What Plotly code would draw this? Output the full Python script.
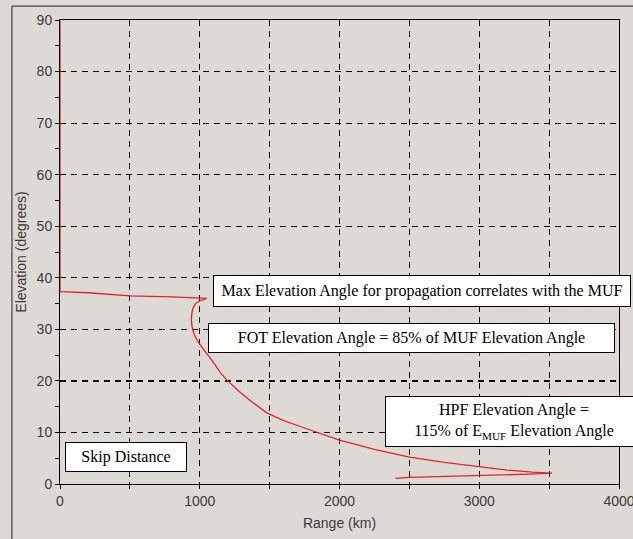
import plotly.graph_objects as go

# Curve data (range km, elevation degrees)
range_km = [0, 0, 200, 350, 500, 800, 1000, 1050,
            1000, 970, 950, 943, 940, 945, 960, 990, 1030, 1060, 1100, 1150, 1200,
            1280, 1370, 1480, 1600, 1714, 1857, 2000, 2250, 2500, 2750, 3000, 3200,
            3380, 3520, 3360, 3000, 2800, 2500, 2400]
elevation_deg = [90, 37.3, 37.1, 36.8, 36.5, 36.3, 36.1, 36.0,
                 35.5, 35.0, 34.0, 33.0, 31.8, 30.5, 29.0, 27.5, 26.0, 25.0, 23.5, 21.5, 20.0,
                 18.0, 16.0, 13.8, 12.3, 11.2, 9.9, 8.5, 6.7, 5.2, 4.2, 3.3, 2.7,
                 2.3, 2.1, 1.9, 1.7, 1.5, 1.3, 1.1]

x_ticks = [0, 1000, 2000, 3000, 4000]
y_ticks = [0, 10, 20, 30, 40, 50, 60, 70, 80, 90]

notes = [
    "Max Elevation Angle for propagation correlates with the MUF",
    "FOT Elevation Angle = 85% of MUF Elevation Angle",
    "HPF Elevation Angle =<br>115% of E<sub>MUF</sub> Elevation Angle",
    "Skip Distance",
]
note_x = [2593, 2518, 3250, 471]
note_y = [37.4, 28.3, 12.1, 5.2]
note_w = [416, 405, 256, 120]
note_h = [30, 28, 49, 28]

BG = "#dddad6"
DASH = "6px,5px"

fig = go.Figure()
fig.add_trace(go.Scatter(x=range_km, y=elevation_deg, mode="lines",
                         line=dict(color="#e3232b", width=1.3),
                         showlegend=False, hoverinfo="skip"))

for t, x, y, w, h in zip(notes, note_x, note_y, note_w, note_h):
    fig.add_annotation(x=x, y=y, xref="x", yref="y", text=t, showarrow=False,
                       bgcolor="white", bordercolor="black", borderwidth=1,
                       borderpad=0, width=w, height=h, align="center", valign="middle",
                       font=dict(family="Liberation Serif, Times New Roman, serif",
                                 size=16, color="black"))

# Bold gridline at 20 degrees
fig.add_shape(type="line", xref="x", yref="y", x0=0, x1=4000, y0=20, y1=20,
              line=dict(color="black", width=2, dash=DASH), layer="below")

# Outer window frame
fig.add_shape(type="rect", xref="paper", yref="paper",
              x0=-0.0859, x1=1.2, y0=-0.2, y1=1.030,
              line=dict(color="#222222", width=1), fillcolor="rgba(0,0,0,0)")

tick_font = dict(family="Liberation Sans, Arial, sans-serif", size=14, color="#3a3a3a")

fig.update_xaxes(range=[0, 4000], tickvals=x_ticks, automargin=False,
                 showgrid=True, gridcolor="black", gridwidth=1, griddash=DASH,
                 minor=dict(dtick=500, tick0=0, ticks="outside", ticklen=4, tickcolor="black",
                            showgrid=True, gridcolor="black", gridwidth=1, griddash=DASH),
                 zeroline=False, showline=True, linecolor="black", linewidth=1,
                 mirror=True, ticks="outside", ticklen=4, tickcolor="black",
                 tickfont=tick_font, ticklabeloverflow="allow",
                 title=dict(text="Range (km)", font=tick_font, standoff=10))
fig.update_yaxes(range=[0, 90], tickvals=y_ticks, automargin=False,
                 showgrid=True, gridcolor="black", gridwidth=1, griddash=DASH,
                 zeroline=False, showline=True, linecolor="black", linewidth=1,
                 mirror=True, ticks="outside", ticklen=4, tickcolor="black",
                 minor=dict(dtick=5, tick0=0, ticks="outside", ticklen=4, tickcolor="black",
                            showgrid=False),
                 tickfont=tick_font,
                 title=dict(text="Elevation (degrees)", font=tick_font, standoff=6))

fig.update_layout(width=633, height=539, paper_bgcolor=BG, plot_bgcolor=BG,
                  margin=dict(l=60, r=14, t=20, b=55))

fig.write_html("out.html")
